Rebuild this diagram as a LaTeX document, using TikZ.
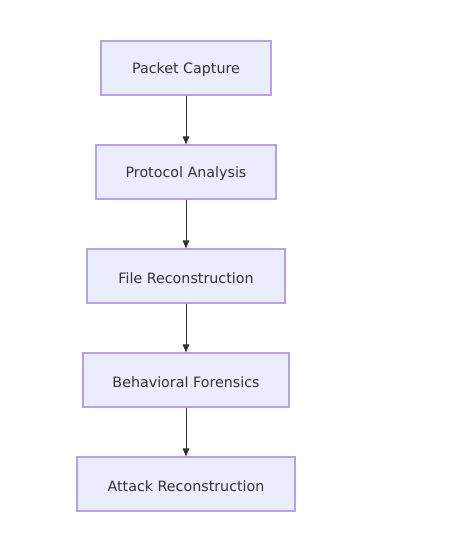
\documentclass[tikz,border=0pt]{standalone}
\usepackage{fontspec}
\setmainfont{DejaVu Sans}
\usetikzlibrary{arrows.meta}
\definecolor{nodefill}{HTML}{ECECFF}
\definecolor{nodeline}{HTML}{B4A0F0}
\definecolor{txt}{HTML}{333333}
\begin{document}
\begin{tikzpicture}[x=0.75pt,y=-0.75pt,
  proc/.style={draw=nodeline,fill=nodefill,line width=0.9pt,minimum height=54*0.75pt,inner sep=0pt,text=txt,font=\fontsize{10.7pt}{12pt}\selectfont},
  lbl/.style={text=txt,inner sep=0pt,font=\fontsize{10.7pt}{12pt}\selectfont},
  flow/.style={draw=txt,line width=0.6pt,-{Triangle[length=6pt,width=5pt]}}]
\useasboundingbox (0,0) rectangle (455,536);
\node[proc,minimum width=170*0.75pt] (a) at (186,68) {};
\node[proc,minimum width=180*0.75pt] (b) at (186,172) {};
\node[proc,minimum width=198*0.75pt] (c) at (186,276) {};
\node[proc,minimum width=206*0.75pt] (d) at (186,380) {};
\node[proc,minimum width=218*0.75pt] (e) at (186,484) {};
\node[lbl] (ta) at (186,70) {Packet Capture};
\node[lbl] (tb) at (186,174) {Protocol Analysis};
\node[lbl] (tc) at (186,278) {File Reconstruction};
\node[lbl] (td) at (186,382) {Behavioral Forensics};
\node[lbl] (te) at (186,486) {Attack Reconstruction};
\draw[flow] (a) -- (b);
\draw[flow] (b) -- (c);
\draw[flow] (c) -- (d);
\draw[flow] (d) -- (e);
\end{tikzpicture}
\end{document}
